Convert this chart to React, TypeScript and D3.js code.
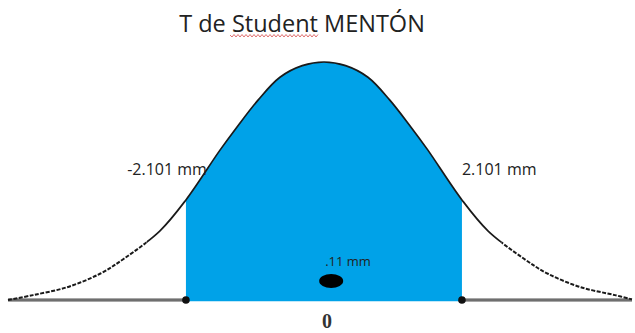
import React from 'react';
import * as d3 from 'd3';

const W = 635;
const H = 333;

// Student t curve, read point by point (t value, density)
const tValues = [-4.81, -4.43, -3.91, -3.41, -3.04, -2.5, -2.101, -1.58, -1.32, -1.0, -0.67, -0.33, 0, 0.33, 0.67, 1.0, 1.32, 1.58, 2.101, 2.5, 3.04, 3.41, 3.91, 4.43, 4.69];
const density = [0, 0.008, 0.021, 0.043, 0.068, 0.113, 0.164, 0.246, 0.284, 0.328, 0.365, 0.384, 0.39, 0.384, 0.365, 0.328, 0.284, 0.246, 0.164, 0.113, 0.068, 0.043, 0.021, 0.008, 0.001];

// Critical values bounding the acceptance region
const criticalValues = [-2.101, 2.101];
const criticalLabels = ['-2.101 mm', '2.101 mm'];

// Observed statistic
const observedValue = 0.11;
const observedLabel = '.11 mm';

const centerLabel = '0';
const title = 'T de Student MENTÓN';

type Pt = [number, number];

export default function App() {
  const x = d3.scaleLinear().domain([tValues[0], tValues[tValues.length - 1]]).range([8, 632]);
  const y = d3.scaleLinear().domain([0, 0.39]).range([300, 62]);

  const pts: Pt[] = tValues.map((t, i) => [t, density[i]]);
  const curve = d3.curveCatmullRom.alpha(0.5);
  const line = d3.line<Pt>().x(d => x(d[0])).y(d => y(d[1])).curve(curve);
  const base = y(0);
  const area = d3.area<Pt>().x(d => x(d[0])).y0(base + 1.5).y1(d => y(d[1])).curve(curve);

  const xl = x(criticalValues[0]);
  const xr = x(criticalValues[1]);
  const tailL = x(-2.7);
  const tailR = x(2.7);

  // red wavy spell-check underline beneath "Student"
  let squiggle = 'M230,35';
  for (let sx = 230, k = 0; sx < 317; sx += 2, k++) {
    squiggle += ` L${sx + 2},${k % 2 === 0 ? 37 : 34.5}`;
  }

  const curvePath = line(pts) || '';
  const font = "'Open Sans', sans-serif";

  return (
    <svg width={W} height={H} style={{ position: 'absolute', left: 0, top: 0, background: '#fff' }}>
      <defs>
        <clipPath id="accept">
          <rect x={xl} y={0} width={xr - xl} height={base + 1.5} />
        </clipPath>
        <clipPath id="mid">
          <rect x={tailL} y={0} width={tailR - tailL} height={H} />
        </clipPath>
        <clipPath id="tails">
          <rect x={0} y={0} width={tailL} height={H} />
          <rect x={tailR} y={0} width={W - tailR} height={H} />
        </clipPath>
      </defs>
      <rect width={W} height={H} fill="#fff" />

      <text x={302} y={32} textAnchor="middle" fontFamily={font} fontSize={23.5} fill="#222">
        {title}
      </text>
      <path d={squiggle} fill="none" stroke="#e07070" strokeWidth={1} />

      {/* axis, outside the acceptance region */}
      {[[8, xl], [xr, 632]].map(([a, b], i) => (
        <g key={i}>
          <line x1={a} x2={b} y1={base} y2={base} stroke="#8a8a8a" strokeWidth={3.5} />
          <line x1={a} x2={b} y1={base} y2={base} stroke="#555" strokeWidth={1} />
        </g>
      ))}

      {/* acceptance region */}
      <path d={area(pts) || ''} fill="#00A2E8" clipPath="url(#accept)" />

      {/* density curve */}
      <path d={curvePath} fill="none" stroke="#1a1a1a" strokeWidth={1.7} clipPath="url(#mid)" />
      <path d={curvePath} fill="none" stroke="#1a1a1a" strokeWidth={2} strokeDasharray="4 1.5" clipPath="url(#tails)" />

      {criticalValues.map(v => (
        <circle key={v} cx={x(v)} cy={base} r={3.8} fill="#111" />
      ))}

      <text x={xl + 21} y={175} textAnchor="end" fontFamily={font} fontSize={16} fill="#222">
        {criticalLabels[0]}
      </text>
      <text x={xr} y={175} textAnchor="start" fontFamily={font} fontSize={16} fill="#222">
        {criticalLabels[1]}
      </text>

      <ellipse cx={x(observedValue)} cy={281} rx={12} ry={7} fill="#000" />
      <text x={x(observedValue) - 6} y={266} textAnchor="start" fontFamily={font} fontSize={13} fill="#222">
        {observedLabel}
      </text>

      <text x={x(0) + 3} y={328} textAnchor="middle" fontFamily="'Liberation Serif', serif" fontWeight="bold" fontSize={20} fill="#333">
        {centerLabel}
      </text>
    </svg>
  );
}
